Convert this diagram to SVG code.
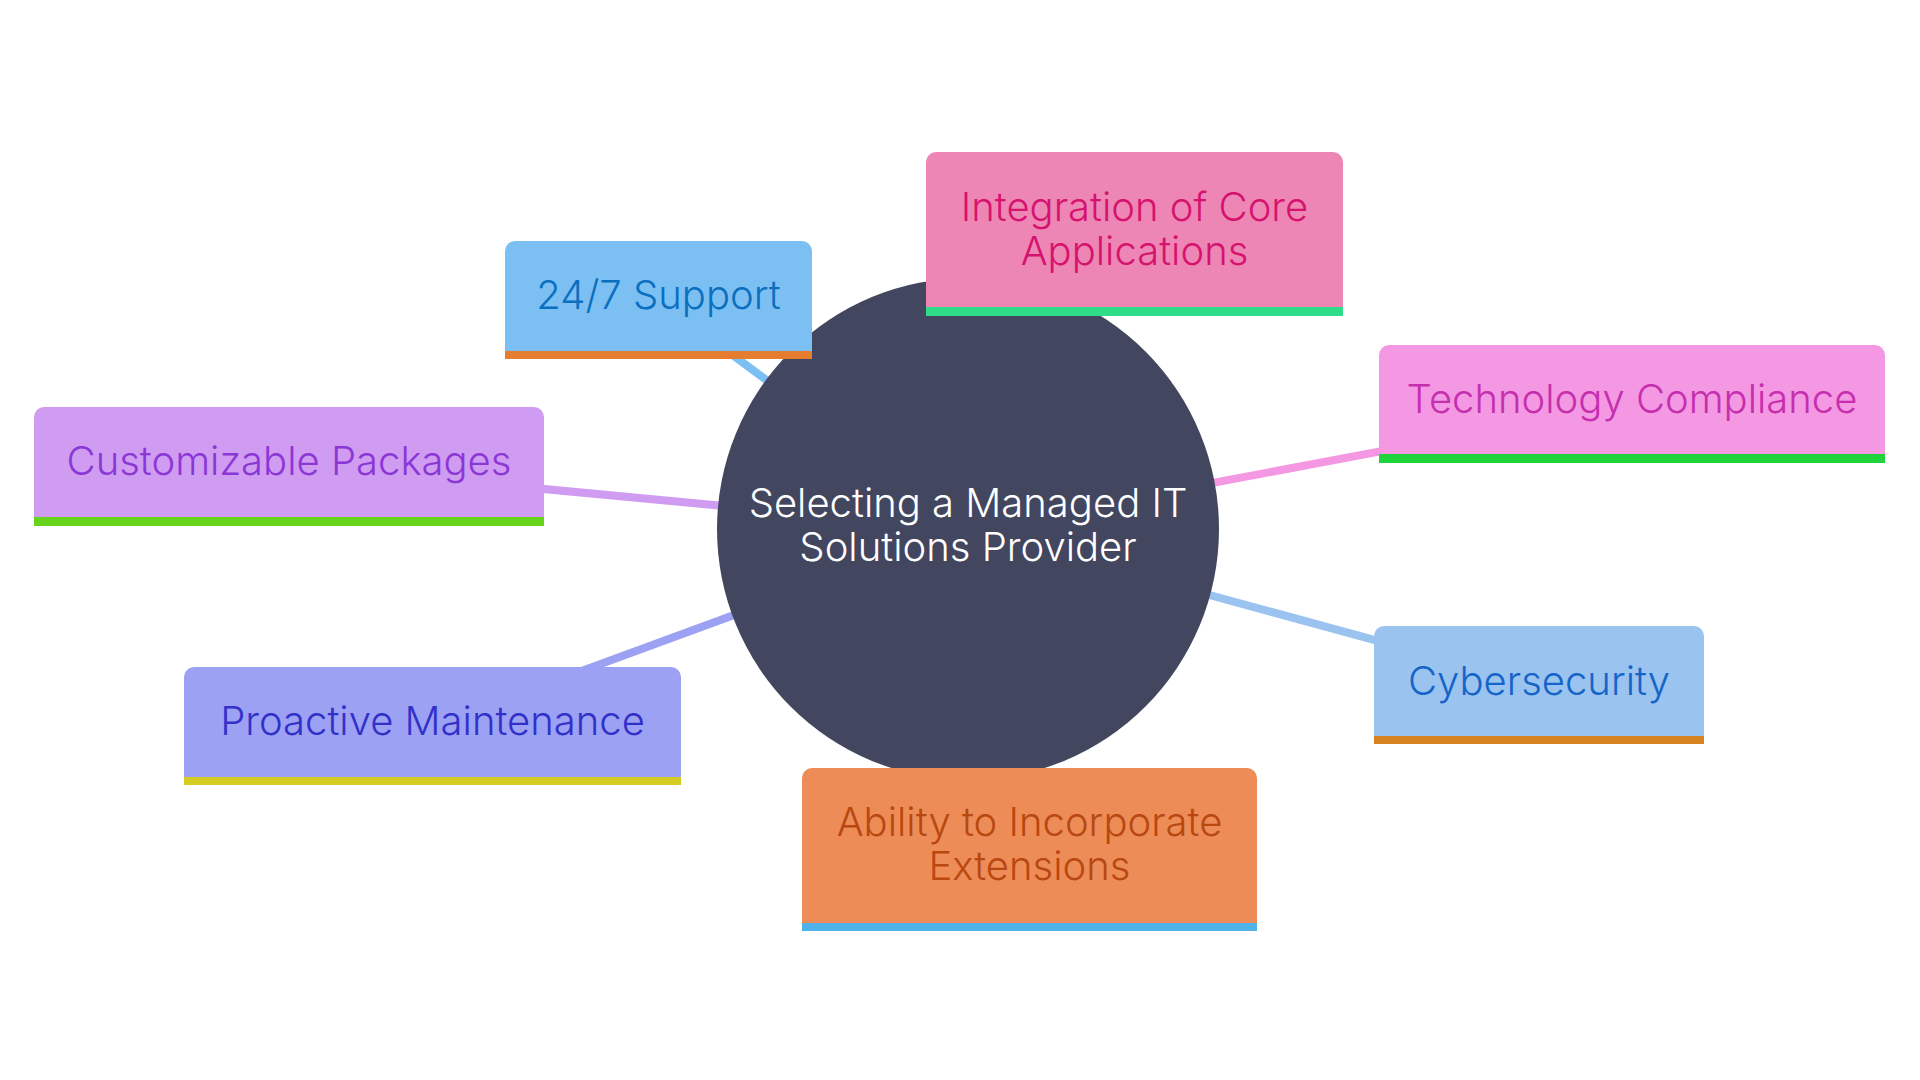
<svg xmlns="http://www.w3.org/2000/svg" width="1920" height="1080" viewBox="0 0 1920 1080">
<style>
text{font-family:Inter,"Noto Sans","Liberation Sans",sans-serif;font-size:40px;font-weight:300;text-anchor:middle}
.edge{stroke-width:8;fill:none;stroke-linecap:butt}
.bar{stroke:none}
</style>
<rect width="1920" height="1080" fill="#ffffff"/>
<g id="connectors">
<line class="edge" x1="968" y1="529" x2="658" y2="300" stroke="#7cc0f3"/>
<line class="edge" x1="968" y1="529" x2="1134" y2="234" stroke="#ee86b5"/>
<line class="edge" x1="968" y1="529" x2="1632" y2="404" stroke="#f498e3"/>
<line class="edge" x1="968" y1="529" x2="289" y2="465" stroke="#cf9cf2"/>
<line class="edge" x1="968" y1="529" x2="432" y2="726" stroke="#9ca1f3"/>
<line class="edge" x1="968" y1="529" x2="1539" y2="685" stroke="#9bc3f0"/>
<line class="edge" x1="968" y1="529" x2="1030" y2="850" stroke="#ed8c57"/>
</g>
<g id="root">
<circle cx="968" cy="529" r="251" fill="#42465e"/>
<text x="968" y="517" fill="#ffffff">Selecting a Managed IT</text>
<text x="968" y="561" fill="#ffffff">Solutions Provider</text>
</g>
<g id="node-support">
<path d="M505 359V251a10 10 0 0 1 10-10h287a10 10 0 0 1 10 10V359z" fill="#7cc0f3"/>
<rect class="bar" x="505" y="351" width="307" height="8" fill="#e57c30"/>
<text x="658.5" y="309" fill="#0b6fbf">24/7 Support</text>
</g>
<g id="node-integration">
<path d="M926 316V162a10 10 0 0 1 10-10h397a10 10 0 0 1 10 10V316z" fill="#ee86b5"/>
<rect class="bar" x="926" y="307" width="417" height="9" fill="#2fdc8a"/>
<text x="1134.5" y="221" fill="#d5136e">Integration of Core</text>
<text x="1134.5" y="265" fill="#d5136e">Applications</text>
</g>
<g id="node-technology">
<path d="M1379 463V355a10 10 0 0 1 10-10h486a10 10 0 0 1 10 10V463z" fill="#f498e3"/>
<rect class="bar" x="1379" y="454" width="506" height="9" fill="#1ed43a"/>
<text x="1632" y="413" fill="#c52fae">Technology Compliance</text>
</g>
<g id="node-customizable">
<path d="M34 526V417a10 10 0 0 1 10-10h490a10 10 0 0 1 10 10V526z" fill="#cf9cf2"/>
<rect class="bar" x="34" y="517" width="510" height="9" fill="#67d41c"/>
<text x="289" y="475" fill="#8b37d6">Customizable Packages</text>
</g>
<g id="node-proactive">
<path d="M184 785V677a10 10 0 0 1 10-10h477a10 10 0 0 1 10 10V785z" fill="#9ca1f3"/>
<rect class="bar" x="184" y="777" width="497" height="8" fill="#d4cc22"/>
<text x="432.5" y="735" fill="#3131c9">Proactive Maintenance</text>
</g>
<g id="node-cybersecurity">
<path d="M1374 744V636a10 10 0 0 1 10-10h310a10 10 0 0 1 10 10V744z" fill="#9bc3f0"/>
<rect class="bar" x="1374" y="736" width="330" height="8" fill="#d58220"/>
<text x="1539" y="695" fill="#1565c8">Cybersecurity</text>
</g>
<g id="node-ability">
<path d="M802 931V778a10 10 0 0 1 10-10h435a10 10 0 0 1 10 10V931z" fill="#ed8c57"/>
<rect class="bar" x="802" y="923" width="455" height="8" fill="#50b4ea"/>
<text x="1029.5" y="836" fill="#b84810">Ability to Incorporate</text>
<text x="1029.5" y="880" fill="#b84810">Extensions</text>
</g>
</svg>
